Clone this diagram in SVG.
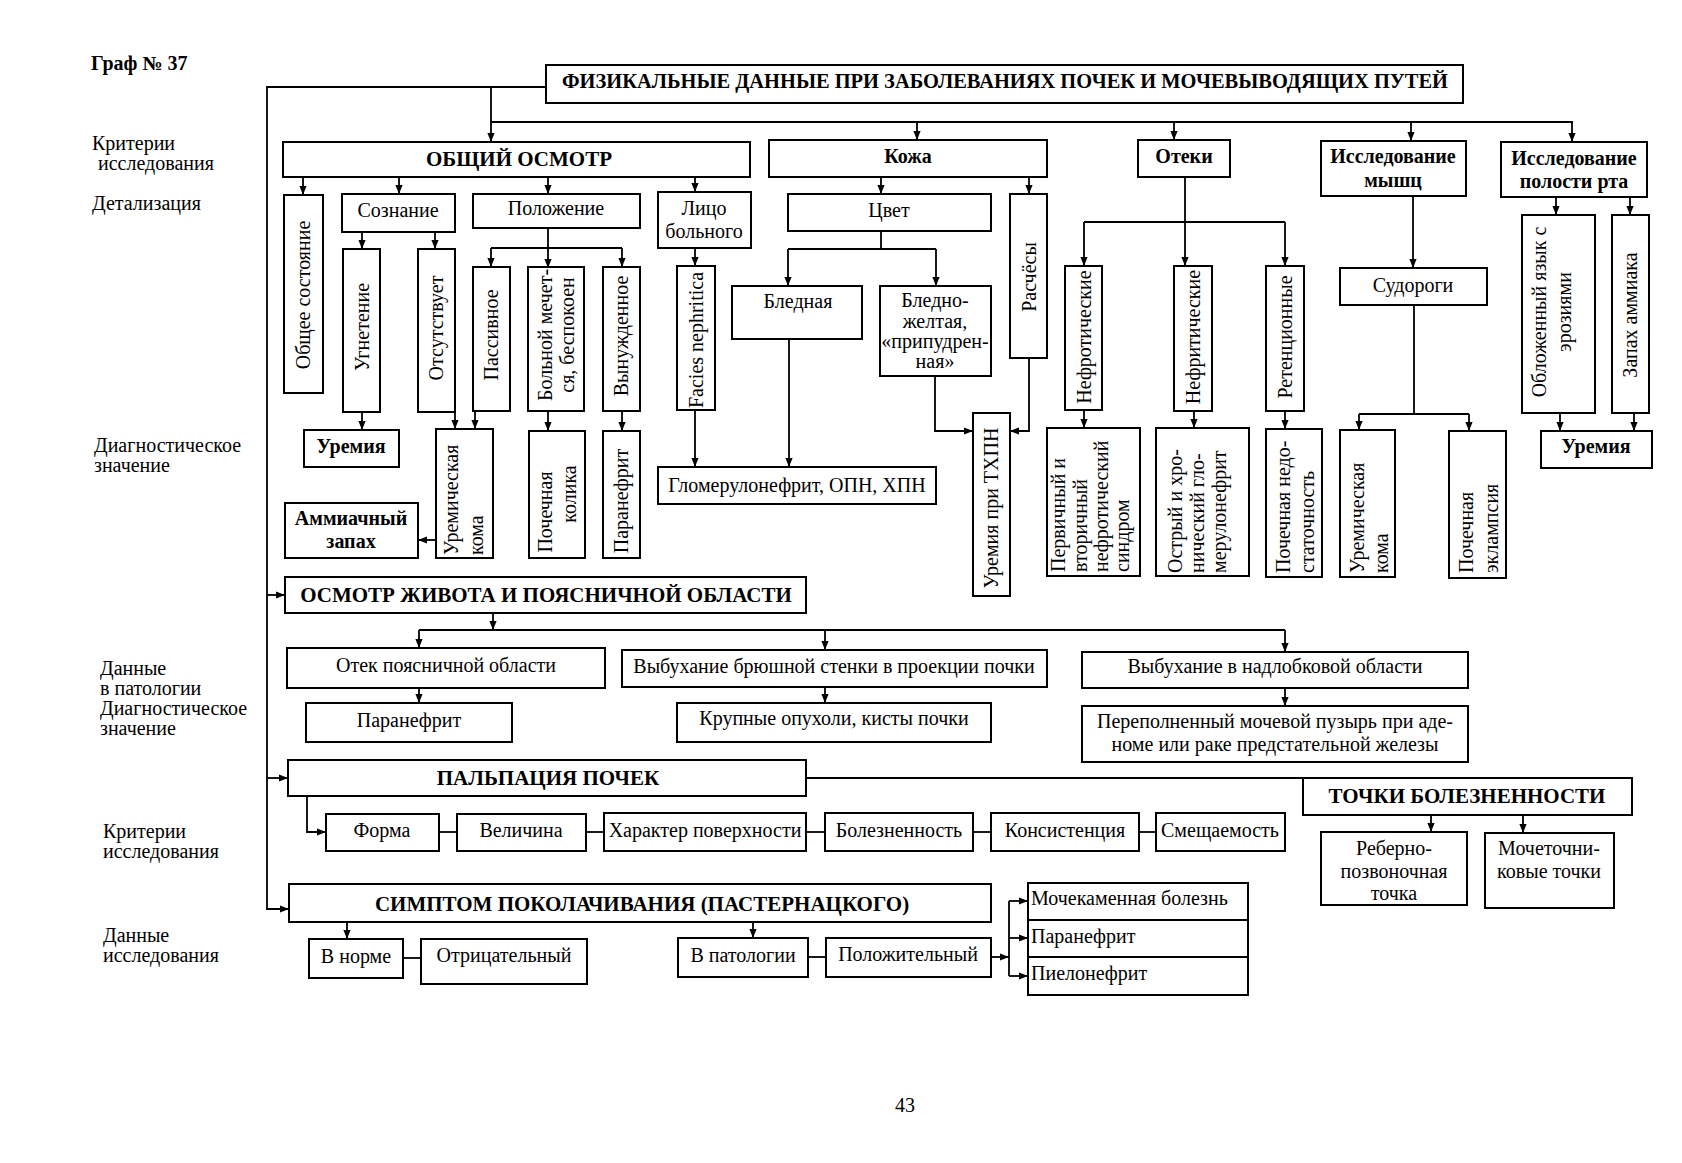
<svg xmlns="http://www.w3.org/2000/svg" width="1682" height="1163" viewBox="0 0 1682 1163">
<style>
rect.b{fill:#fff;stroke:#000;stroke-width:2}
.c path{fill:none;stroke:#000;stroke-width:1.8}
text{font-family:"Liberation Serif","Times New Roman",serif;font-size:20px;fill:#000}
.m{text-anchor:middle}
.s{text-anchor:start}
.bd{font-weight:bold}
.h{font-weight:bold;font-size:21px}
.v{dominant-baseline:central}
</style>
<defs>
<marker id="ah" viewBox="0 0 10 10" refX="10" refY="5" markerWidth="9" markerHeight="9" markerUnits="userSpaceOnUse" orient="auto"><path d="M0,1 L10,5 L0,9 z" fill="#000"/></marker>
</defs>
<rect width="1682" height="1163" fill="#fff"/>

<g id="labels">
<text class="bd" x="91" y="70" font-size="21">Граф № 37</text>
<text x="92" y="150">Критерии</text>
<text x="98" y="170">исследования</text>
<text x="92" y="210">Детализация</text>
<text x="94" y="452">Диагностическое</text>
<text x="94" y="472">значение</text>
<text x="100" y="675">Данные</text>
<text x="100" y="695">в патологии</text>
<text x="100" y="715">Диагностическое</text>
<text x="100" y="735">значение</text>
<text x="103" y="838">Критерии</text>
<text x="103" y="858">исследования</text>
<text x="103" y="942">Данные</text>
<text x="103" y="962">исследования</text>
<text class="m" x="905" y="1112">43</text>
</g>

<g class="c" id="connectors">
<path d="M546,87 H267 V909 H289" marker-end="url(#ah)"/>
<path d="M267,595 H285" marker-end="url(#ah)"/>
<path d="M267,778 H288" marker-end="url(#ah)"/>
<path d="M491,87 V142" marker-end="url(#ah)"/>
<path d="M491,122 H1572 V142" marker-end="url(#ah)"/>
<path d="M917,122 V140" marker-end="url(#ah)"/>
<path d="M1174,122 V140" marker-end="url(#ah)"/>
<path d="M1411,122 V141" marker-end="url(#ah)"/>
<path d="M303,177 V195" marker-end="url(#ah)"/>
<path d="M399,177 V194" marker-end="url(#ah)"/>
<path d="M548,177 V194" marker-end="url(#ah)"/>
<path d="M695,177 V192" marker-end="url(#ah)"/>
<path d="M362,232 V249" marker-end="url(#ah)"/>
<path d="M435,232 V249" marker-end="url(#ah)"/>
<path d="M548,228 V268" marker-end="url(#ah)"/>
<path d="M491,248 H622"/>
<path d="M491,248 V267" marker-end="url(#ah)"/>
<path d="M622,248 V267" marker-end="url(#ah)"/>
<path d="M362,412 V430" marker-end="url(#ah)"/>
<path d="M455,412 V429" marker-end="url(#ah)"/>
<path d="M475,411 V429" marker-end="url(#ah)"/>
<path d="M436,540 H418" marker-end="url(#ah)"/>
<path d="M548,411 V431" marker-end="url(#ah)"/>
<path d="M622,411 V431" marker-end="url(#ah)"/>
<path d="M695,248 V266" marker-end="url(#ah)"/>
<path d="M695,410 V467" marker-end="url(#ah)"/>
<path d="M881,177 V194" marker-end="url(#ah)"/>
<path d="M1029,177 V194" marker-end="url(#ah)"/>
<path d="M881,231 V249"/>
<path d="M788,249 H936"/>
<path d="M788,249 V286" marker-end="url(#ah)"/>
<path d="M936,249 V286" marker-end="url(#ah)"/>
<path d="M789,339 V467" marker-end="url(#ah)"/>
<path d="M935,376 V431 H973" marker-end="url(#ah)"/>
<path d="M1029,358 V431 H1010" marker-end="url(#ah)"/>
<path d="M1185,177 V266" marker-end="url(#ah)"/>
<path d="M1084,222 H1285"/>
<path d="M1084,222 V266" marker-end="url(#ah)"/>
<path d="M1285,222 V266" marker-end="url(#ah)"/>
<path d="M1084,410 V428" marker-end="url(#ah)"/>
<path d="M1194,411 V428" marker-end="url(#ah)"/>
<path d="M1285,411 V429" marker-end="url(#ah)"/>
<path d="M1413,196 V268" marker-end="url(#ah)"/>
<path d="M1414,305 V414"/>
<path d="M1359,414 H1469"/>
<path d="M1359,414 V430" marker-end="url(#ah)"/>
<path d="M1469,414 V431" marker-end="url(#ah)"/>
<path d="M1556,197 V215" marker-end="url(#ah)"/>
<path d="M1630,197 V215" marker-end="url(#ah)"/>
<path d="M1560,413 V431" marker-end="url(#ah)"/>
<path d="M1634,413 V431" marker-end="url(#ah)"/>
<path d="M493,613 V630" marker-end="url(#ah)"/>
<path d="M419,630 H1285"/>
<path d="M419,630 V648" marker-end="url(#ah)"/>
<path d="M825,630 V650" marker-end="url(#ah)"/>
<path d="M1285,630 V652" marker-end="url(#ah)"/>
<path d="M419,688 V703" marker-end="url(#ah)"/>
<path d="M825,687 V703" marker-end="url(#ah)"/>
<path d="M1285,688 V706" marker-end="url(#ah)"/>
<path d="M806,778 H1303"/>
<path d="M307,796 V832 H326" marker-end="url(#ah)"/>
<path d="M439,832 H457"/>
<path d="M586,832 H604"/>
<path d="M806,832 H825"/>
<path d="M973,832 H991"/>
<path d="M1139,832 H1156"/>
<path d="M1431,815 V832" marker-end="url(#ah)"/>
<path d="M1523,815 V833" marker-end="url(#ah)"/>
<path d="M347,922 V939" marker-end="url(#ah)"/>
<path d="M753,922 V938" marker-end="url(#ah)"/>
<path d="M403,958 H421"/>
<path d="M808,957 H826"/>
<path d="M991,957 H1009" marker-end="url(#ah)"/>
<path d="M1009,901 V976"/>
<path d="M1009,901 H1028" marker-end="url(#ah)"/>
<path d="M1009,938 H1028" marker-end="url(#ah)"/>
<path d="M1009,976 H1028" marker-end="url(#ah)"/>
</g>

<g id="n-title"><rect class="b" x="546" y="65" width="917" height="38"/><text class="m bd" x="1005" y="88" font-size="22" textLength="886" lengthAdjust="spacingAndGlyphs">ФИЗИКАЛЬНЫЕ ДАННЫЕ ПРИ ЗАБОЛЕВАНИЯХ ПОЧЕК И МОЧЕВЫВОДЯЩИХ ПУТЕЙ</text></g>
<g id="n-obshiy"><rect class="b" x="283" y="142" width="467" height="35"/><text class="m h" x="519" y="166">ОБЩИЙ ОСМОТР</text></g>
<g id="n-kozha"><rect class="b" x="769" y="140" width="278" height="37"/><text class="m bd" x="908" y="163">Кожа</text></g>
<g id="n-oteki"><rect class="b" x="1138" y="140" width="92" height="37"/><text class="m bd" x="1184" y="163">Отеки</text></g>
<g id="n-myshc"><rect class="b" x="1321" y="141" width="145" height="55"/><text class="m bd" x="1393" y="163">Исследование</text><text class="m bd" x="1393" y="187">мышц</text></g>
<g id="n-rot"><rect class="b" x="1501" y="142" width="146" height="55"/><text class="m bd" x="1574" y="165">Исследование</text><text class="m bd" x="1574" y="188">полости рта</text></g>

<g id="n-obshee"><rect class="b" x="284" y="195" width="39" height="198"/><text class="m v" transform="translate(303,295) rotate(-90)">Общее состояние</text></g>
<g id="n-soznanie"><rect class="b" x="342" y="194" width="113" height="38"/><text class="m" x="398" y="217">Сознание</text></g>
<g id="n-polozhenie"><rect class="b" x="473" y="194" width="167" height="34"/><text class="m" x="556" y="215">Положение</text></g>
<g id="n-lico"><rect class="b" x="658" y="192" width="93" height="56"/><text class="m" x="704" y="215">Лицо</text><text class="m" x="704" y="238">больного</text></g>
<g id="n-cvet"><rect class="b" x="788" y="194" width="203" height="37"/><text class="m" x="889" y="217">Цвет</text></g>
<g id="n-raschesy"><rect class="b" x="1010" y="194" width="37" height="164"/><text class="m v" transform="translate(1029,277) rotate(-90)">Расчёсы</text></g>

<g id="n-ugnetenie"><rect class="b" x="343" y="249" width="37" height="163"/><text class="m v" transform="translate(362,327) rotate(-90)">Угнетение</text></g>
<g id="n-otsutstvuet"><rect class="b" x="418" y="249" width="37" height="163"/><text class="m v" transform="translate(436,328) rotate(-90)">Отсутствует</text></g>
<g id="n-passivnoe"><rect class="b" x="473" y="267" width="37" height="144"/><text class="m v" transform="translate(491,335) rotate(-90)">Пассивное</text></g>
<g id="n-bolnoy"><rect class="b" x="528" y="267" width="56" height="144"/><text class="m v" transform="translate(545,335) rotate(-90)">Больной мечет-</text><text class="m v" transform="translate(567,335) rotate(-90)">ся, беспокоен</text></g>
<g id="n-vynuzhd"><rect class="b" x="603" y="267" width="37" height="144"/><text class="m v" transform="translate(621,336) rotate(-90)">Вынужденное</text></g>
<g id="n-facies"><rect class="b" x="677" y="266" width="38" height="144"/><text class="m v" transform="translate(696,340) rotate(-90)">Facies nephritica</text></g>
<g id="n-blednaya"><rect class="b" x="732" y="286" width="130" height="53"/><text class="m" x="798" y="308">Бледная</text></g>
<g id="n-bledno-zh"><rect class="b" x="880" y="286" width="111" height="90"/><text class="m" x="935" y="307">Бледно-</text><text class="m" x="935" y="328">желтая,</text><text class="m" x="935" y="348">«припудрен-</text><text class="m" x="935" y="368">ная»</text></g>
<g id="n-nefrot"><rect class="b" x="1065" y="266" width="37" height="144"/><text class="m v" transform="translate(1084,337) rotate(-90)">Нефротические</text></g>
<g id="n-nefrit"><rect class="b" x="1174" y="266" width="38" height="145"/><text class="m v" transform="translate(1193,337) rotate(-90)">Нефритические</text></g>
<g id="n-retenc"><rect class="b" x="1266" y="266" width="38" height="145"/><text class="m v" transform="translate(1285,337) rotate(-90)">Ретенционные</text></g>
<g id="n-sudorogi"><rect class="b" x="1340" y="268" width="147" height="37"/><text class="m" x="1413" y="292">Судороги</text></g>
<g id="n-oblozh"><rect class="b" x="1522" y="215" width="73" height="198"/><text class="m v" transform="translate(1539,312) rotate(-90)">Обложенный язык с</text><text class="m v" transform="translate(1564,312) rotate(-90)">эрозиями</text></g>
<g id="n-zapah"><rect class="b" x="1612" y="215" width="37" height="198"/><text class="m v" transform="translate(1630,315) rotate(-90)">Запах аммиака</text></g>

<g id="n-uremia1"><rect class="b" x="304" y="430" width="95" height="37"/><text class="m bd" x="351" y="453">Уремия</text></g>
<g id="n-koma1"><rect class="b" x="436" y="429" width="57" height="129"/><text class="s v" transform="translate(451,555) rotate(-90)">Уремическая</text><text class="s v" transform="translate(476,555) rotate(-90)">кома</text></g>
<g id="n-ammiak"><rect class="b" x="285" y="503" width="133" height="55"/><text class="m bd" x="351" y="525">Аммиачный</text><text class="m bd" x="351" y="548">запах</text></g>
<g id="n-kolika"><rect class="b" x="529" y="431" width="56" height="127"/><text class="m v" transform="translate(545,512) rotate(-90)">Почечная</text><text class="m v" transform="translate(569,494) rotate(-90)">колика</text></g>
<g id="n-paranefrit1"><rect class="b" x="603" y="431" width="37" height="127"/><text class="m v" transform="translate(621,501) rotate(-90)">Паранефрит</text></g>
<g id="n-glomerulo"><rect class="b" x="658" y="467" width="278" height="37"/><text class="m" x="797" y="492" font-size="21">Гломерулонефрит, ОПН, ХПН</text></g>
<g id="n-uremia-thpn"><rect class="b" x="973" y="413" width="37" height="183"/><text class="m v" transform="translate(991,508) rotate(-90)">Уремия при ТХПН</text></g>
<g id="n-pervichny"><rect class="b" x="1047" y="428" width="93" height="148"/><text class="s v" transform="translate(1058,572) rotate(-90)">Первичный и</text><text class="s v" transform="translate(1080,572) rotate(-90)">вторичный</text><text class="s v" transform="translate(1101,572) rotate(-90)">нефротический</text><text class="s v" transform="translate(1122,572) rotate(-90)">синдром</text></g>
<g id="n-ostry"><rect class="b" x="1156" y="428" width="93" height="148"/><text class="s v" transform="translate(1175,573) rotate(-90)">Острый и хро-</text><text class="s v" transform="translate(1197,573) rotate(-90)">нический гло-</text><text class="s v" transform="translate(1219,573) rotate(-90)">мерулонефрит</text></g>
<g id="n-pochnedost"><rect class="b" x="1266" y="429" width="56" height="148"/><text class="s v" transform="translate(1283,573) rotate(-90)">Почечная недо-</text><text class="s v" transform="translate(1307,573) rotate(-90)">статочность</text></g>
<g id="n-koma2"><rect class="b" x="1340" y="430" width="55" height="147"/><text class="s v" transform="translate(1357,573) rotate(-90)">Уремическая</text><text class="s v" transform="translate(1381,573) rotate(-90)">кома</text></g>
<g id="n-eklampsia"><rect class="b" x="1449" y="431" width="57" height="147"/><text class="s v" transform="translate(1466,573) rotate(-90)">Почечная</text><text class="s v" transform="translate(1491,573) rotate(-90)">эклампсия</text></g>
<g id="n-uremia2"><rect class="b" x="1541" y="431" width="111" height="37"/><text class="m bd" x="1596" y="453">Уремия</text></g>

<g id="n-osmotr"><rect class="b" x="285" y="577" width="521" height="36"/><text class="m h" x="546" y="602">ОСМОТР ЖИВОТА И ПОЯСНИЧНОЙ ОБЛАСТИ</text></g>
<g id="n-otek"><rect class="b" x="287" y="648" width="318" height="40"/><text class="m" x="446" y="672">Отек поясничной области</text></g>
<g id="n-paranefrit2"><rect class="b" x="306" y="703" width="206" height="39"/><text class="m" x="409" y="727">Паранефрит</text></g>
<g id="n-vybuh1"><rect class="b" x="622" y="650" width="425" height="37"/><text class="m" x="834" y="673">Выбухание брюшной стенки в проекции почки</text></g>
<g id="n-krupnye"><rect class="b" x="677" y="703" width="314" height="39"/><text class="m" x="834" y="725">Крупные опухоли, кисты  почки</text></g>
<g id="n-vybuh2"><rect class="b" x="1082" y="652" width="386" height="36"/><text class="m" x="1275" y="673">Выбухание в надлобковой области</text></g>
<g id="n-perepoln"><rect class="b" x="1082" y="706" width="386" height="56"/><text class="m" x="1275" y="728">Переполненный мочевой пузырь при аде-</text><text class="m" x="1275" y="751">номе или раке предстательной железы</text></g>

<g id="n-palpacia"><rect class="b" x="288" y="760" width="518" height="36"/><text class="m h" x="548" y="785">ПАЛЬПАЦИЯ ПОЧЕК</text></g>
<g id="n-forma"><rect class="b" x="326" y="814" width="113" height="37"/><text class="m" x="382" y="837">Форма</text></g>
<g id="n-velichina"><rect class="b" x="457" y="814" width="129" height="37"/><text class="m" x="521" y="837">Величина</text></g>
<g id="n-harakter"><rect class="b" x="604" y="813" width="202" height="38"/><text class="m" x="705" y="837">Характер поверхности</text></g>
<g id="n-bolezn"><rect class="b" x="825" y="813" width="148" height="38"/><text class="m" x="899" y="837">Болезненность</text></g>
<g id="n-konsist"><rect class="b" x="991" y="813" width="148" height="38"/><text class="m" x="1065" y="837">Консистенция</text></g>
<g id="n-smesh"><rect class="b" x="1156" y="813" width="129" height="38"/><text class="m" x="1220" y="837">Смещаемость</text></g>
<g id="n-tochki"><rect class="b" x="1303" y="778" width="329" height="37"/><text class="m h" x="1467" y="803">ТОЧКИ БОЛЕЗНЕННОСТИ</text></g>
<g id="n-reberno"><rect class="b" x="1321" y="832" width="146" height="73"/><text class="m" x="1394" y="855">Реберно-</text><text class="m" x="1394" y="878">позвоночная</text><text class="m" x="1394" y="900">точка</text></g>
<g id="n-mochetoch"><rect class="b" x="1485" y="833" width="129" height="75"/><text class="m" x="1549" y="855">Мочеточни-</text><text class="m" x="1549" y="878">ковые точки</text></g>

<g id="n-simptom"><rect class="b" x="289" y="884" width="702" height="38"/><text class="m h" x="642" y="911">СИМПТОМ ПОКОЛАЧИВАНИЯ (ПАСТЕРНАЦКОГО)</text></g>
<g id="n-vnorme"><rect class="b" x="309" y="939" width="94" height="39"/><text class="m" x="356" y="963">В норме</text></g>
<g id="n-otric"><rect class="b" x="421" y="939" width="166" height="45"/><text class="m" x="504" y="962">Отрицательный</text></g>
<g id="n-vpatol"><rect class="b" x="678" y="938" width="130" height="39"/><text class="m" x="743" y="962">В патологии</text></g>
<g id="n-polozh"><rect class="b" x="826" y="938" width="165" height="39"/><text class="m" x="908" y="961">Положительный</text></g>
<g id="n-table"><rect class="b" x="1028" y="883" width="220" height="112"/><path d="M1028,920 H1248 M1028,957 H1248" stroke="#000" stroke-width="2"/><text class="s" x="1031" y="905">Мочекаменная болезнь</text><text class="s" x="1031" y="943">Паранефрит</text><text class="s" x="1031" y="980">Пиелонефрит</text></g>
</svg>
